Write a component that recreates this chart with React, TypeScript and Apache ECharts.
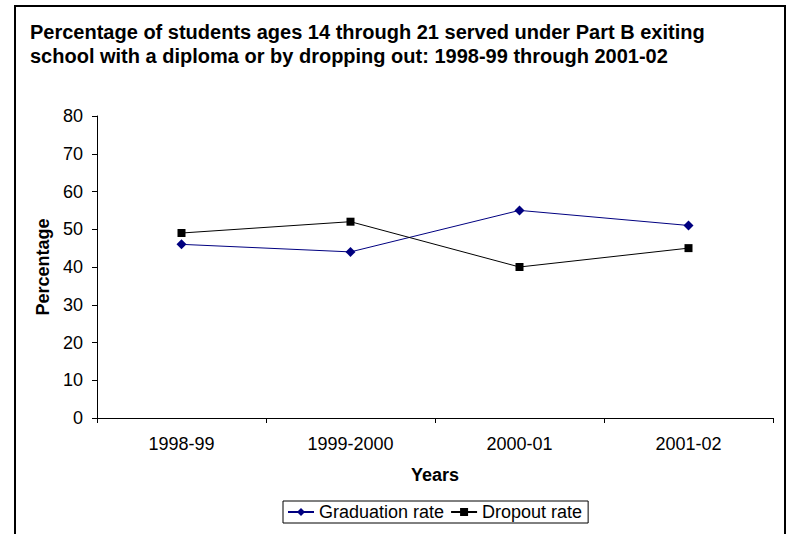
import React, { useEffect, useRef } from "react";
import * as echarts from "echarts";

const categories = ["1998-99", "1999-2000", "2000-01", "2001-02"];
const graduationRate = [46, 44, 55, 51];
const dropoutRate = [49, 52, 40, 45];
const titleLines = [
  "Percentage of students ages 14 through 21 served under Part B exiting",
  "school with a diploma or by dropping out: 1998-99 through 2001-02",
];

const FONT = "'Liberation Sans', Arial, sans-serif";

export default function App() {
  const ref = useRef<HTMLDivElement>(null);
  useEffect(() => {
    if (!ref.current) return;
    const chart = echarts.init(ref.current, null, { renderer: "svg" });
    chart.setOption({
      animation: false,
      backgroundColor: "#ffffff",
      textStyle: { fontFamily: FONT },
      title: {
        text: titleLines.join("\n"),
        left: 30,
        top: 20,
        padding: 0,
        textStyle: {
          fontFamily: FONT,
          fontSize: 20,
          fontWeight: "bold",
          color: "#000",
          lineHeight: 24,
        },
      },
      graphic: [
        {
          type: "rect",
          shape: { x: 15, y: 6, width: 770, height: 540 },
          style: { fill: "none", stroke: "#000", lineWidth: 2 },
          silent: true,
        },
      ],
      legend: {
        bottom: 11,
        left: 283,
        itemWidth: 26,
        itemHeight: 10,
        itemGap: 6,
        padding: [2, 6, 2, 4],
        borderColor: "#000",
        borderWidth: 1,
        textStyle: { fontFamily: FONT, fontSize: 18, color: "#000" },
        data: ["Graduation rate", "Dropout rate"],
      },
      grid: { left: 97, right: 15, top: 116, bottom: 116 },
      xAxis: {
        type: "category",
        data: categories,
        boundaryGap: true,
        name: "Years",
        nameLocation: "middle",
        nameGap: 48,
        nameTextStyle: { fontFamily: FONT, fontSize: 18, fontWeight: "bold", color: "#000" },
        axisLine: { lineStyle: { color: "#000", width: 1 } },
        axisTick: { show: true, length: 5, lineStyle: { color: "#000" } },
        axisLabel: { fontFamily: FONT, fontSize: 18, color: "#000", margin: 17 },
        splitLine: { show: false },
      },
      yAxis: {
        type: "value",
        min: 0,
        max: 80,
        interval: 10,
        name: "Percentage",
        nameLocation: "middle",
        nameGap: 42,
        nameTextStyle: { fontFamily: FONT, fontSize: 18, fontWeight: "bold", color: "#000" },
        axisLine: { show: true, lineStyle: { color: "#000", width: 1 } },
        axisTick: { show: true, length: 5, lineStyle: { color: "#000" } },
        axisLabel: { fontFamily: FONT, fontSize: 18, color: "#000", margin: 14 },
        splitLine: { show: false },
      },
      series: [
        {
          name: "Graduation rate",
          type: "line",
          data: graduationRate,
          symbol: "diamond",
          symbolSize: 10,
          itemStyle: { color: "#000080" },
          lineStyle: { color: "#000080", width: 1 },
        },
        {
          name: "Dropout rate",
          type: "line",
          data: dropoutRate,
          symbol: "rect",
          symbolSize: 8,
          itemStyle: { color: "#000000" },
          lineStyle: { color: "#000000", width: 1 },
        },
      ],
    });
    return () => chart.dispose();
  }, []);
  return (
    <div
      ref={ref}
      style={{ position: "absolute", left: 0, top: 0, width: 788, height: 534 }}
    />
  );
}
